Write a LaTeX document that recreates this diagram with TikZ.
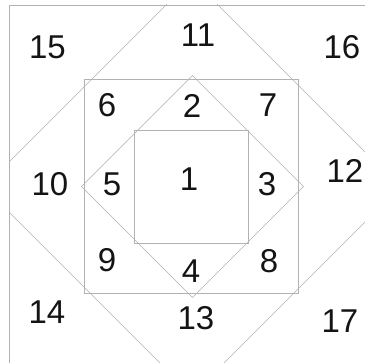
\documentclass[tikz,border=0pt]{standalone}
\usepackage{fontspec}
\setmainfont{Liberation Sans}
\begin{document}
\begin{tikzpicture}[x=1pt,y=-1pt,
  frameline/.style={draw=black!30, line width=0.6pt},
  lab/.style={font=\fontsize{33}{33}\selectfont, inner sep=0pt, text=black!92}]
\useasboundingbox (0,0) rectangle (365,363);
\fill[white] (0,0) rectangle (365,363);
% outer frame (top and left only)
\draw[frameline] (365,5) -- (9,5) -- (9,363);
% big diamond, clipped to frame
\begin{scope}
  \clip (9,5) rectangle (365,363);
  \draw[frameline] (192,-21) -- (400,187) -- (192,395) -- (-16,187) -- cycle;
\end{scope}
% middle square
\draw[frameline] (84,79) rectangle (298.5,293);
% inner diamond
\draw[frameline] (192.5,75.5) -- (303.5,186.5) -- (192.5,297.5) -- (81.5,186.5) -- cycle;
% inner square
\draw[frameline] (134,130) rectangle (248.5,243);
% labels
\node[lab] (l1)  at (189,179.5) {1};
\node[lab] (l2)  at (192,105.5) {2};
\node[lab] (l3)  at (267,184.5) {3};
\node[lab] (l4)  at (191,271.5) {4};
\node[lab] (l5)  at (112,184.5) {5};
\node[lab] (l6)  at (107,105.5) {6};
\node[lab] (l7)  at (268,105) {7};
\node[lab] (l8)  at (269,261) {8};
\node[lab] (l9)  at (107,260.5) {9};
\node[lab] (l10) at (50,184.5) {10};
\node[lab] (l11) at (198,35) {11};
\node[lab] (l12) at (345,170.5) {12};
\node[lab] (l13) at (196,318.5) {13};
\node[lab] (l14) at (47,312.5) {14};
\node[lab] (l15) at (47.5,47) {15};
\node[lab] (l16) at (342,47) {16};
\node[lab] (l17) at (340,321.5) {17};
\end{tikzpicture}
\end{document}
